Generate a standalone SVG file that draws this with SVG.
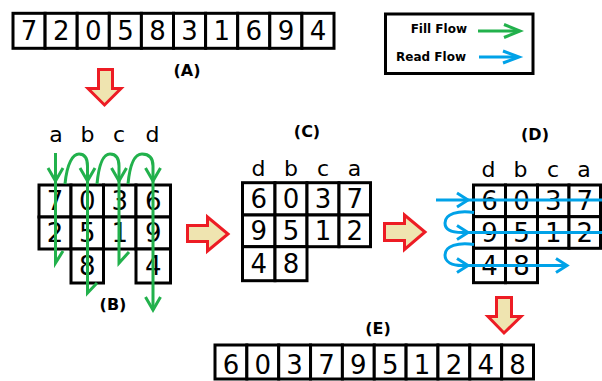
<svg xmlns="http://www.w3.org/2000/svg" width="602" height="381" viewBox="0 0 602 381">
<style>
.cell{fill:#fff;stroke:#000;stroke-width:3}
.dig{font-family:"DejaVu Sans",sans-serif;font-size:26px;text-anchor:middle;fill:#000}
.let{font-family:"DejaVu Sans",sans-serif;font-size:22px;text-anchor:middle;fill:#000}
.lab{font-family:"DejaVu Sans",sans-serif;font-size:16px;font-weight:bold;text-anchor:middle;fill:#000}
.leg{font-family:"DejaVu Sans",sans-serif;font-size:12px;font-weight:bold;text-anchor:end;fill:#000}
.big{fill:#EFE4B0;stroke:#ED1C24;stroke-width:3}
.g{fill:none;stroke:#22B14C;stroke-width:3}
.b{fill:none;stroke:#00A2E8;stroke-width:3}
</style>
<rect width="602" height="381" fill="#fff"/>

<g id="arrayA">
<rect class="cell" x="13" y="13.3" width="32.1" height="35"/>
<rect class="cell" x="45.1" y="13.3" width="32.1" height="35"/>
<rect class="cell" x="77.2" y="13.3" width="32.1" height="35"/>
<rect class="cell" x="109.3" y="13.3" width="32.1" height="35"/>
<rect class="cell" x="141.4" y="13.3" width="32.1" height="35"/>
<rect class="cell" x="173.5" y="13.3" width="32.1" height="35"/>
<rect class="cell" x="205.6" y="13.3" width="32.1" height="35"/>
<rect class="cell" x="237.7" y="13.3" width="32.1" height="35"/>
<rect class="cell" x="269.8" y="13.3" width="32.1" height="35"/>
<rect class="cell" x="301.9" y="13.3" width="32.1" height="35"/>
<text class="dig" x="29" y="40">7</text>
<text class="dig" x="61.2" y="40">2</text>
<text class="dig" x="93.3" y="40">0</text>
<text class="dig" x="125.4" y="40">5</text>
<text class="dig" x="157.5" y="40">8</text>
<text class="dig" x="189.6" y="40">3</text>
<text class="dig" x="221.7" y="40">1</text>
<text class="dig" x="253.8" y="40">6</text>
<text class="dig" x="285.9" y="40">9</text>
<text class="dig" x="318" y="40">4</text>
<text class="lab" x="187" y="76">(A)</text>
</g>

<g id="legend">
<rect x="385.5" y="14" width="147.5" height="59.5" fill="#fff" stroke="#000" stroke-width="3"/>
<text class="leg" x="467" y="33">Fill Flow</text>
<text class="leg" x="466" y="61">Read Flow</text>
<path class="g" d="M478,31 H519"/>
<polyline class="g" points="504,24.5 520,31 504,37.5"/>
<path class="b" d="M479,57 H518"/>
<polyline class="b" points="503,51 519,57 503,63"/>
</g>

<g id="gridB">
<text class="let" x="56" y="142">a</text>
<text class="let" x="87.5" y="142">b</text>
<text class="let" x="119" y="142">c</text>
<text class="let" x="152.5" y="142">d</text>
<rect class="cell" x="39" y="185" width="32" height="32"/>
<rect class="cell" x="71" y="185" width="32.5" height="32"/>
<rect class="cell" x="103.5" y="185" width="32.5" height="32"/>
<rect class="cell" x="136" y="185" width="34.5" height="32"/>
<rect class="cell" x="39" y="217" width="32" height="32"/>
<rect class="cell" x="71" y="217" width="32.5" height="32"/>
<rect class="cell" x="103.5" y="217" width="32.5" height="32"/>
<rect class="cell" x="136" y="217" width="34.5" height="32"/>
<rect class="cell" x="71" y="249" width="32.5" height="34"/>
<rect class="cell" x="136" y="249" width="34.5" height="34"/>
<text class="dig" x="55" y="210">7</text>
<text class="dig" x="87.3" y="210">0</text>
<text class="dig" x="119.8" y="210">3</text>
<text class="dig" x="153.3" y="210">6</text>
<text class="dig" x="55" y="242">2</text>
<text class="dig" x="87.3" y="242">5</text>
<text class="dig" x="119.8" y="242">1</text>
<text class="dig" x="153.3" y="242">9</text>
<text class="dig" x="87.3" y="275">8</text>
<text class="dig" x="153.3" y="275">4</text>
<text class="lab" x="113" y="309.5">(B)</text>
</g>

<g id="gridC">
<text class="lab" x="307" y="137">(C)</text>
<text class="let" x="258.5" y="176">d</text>
<text class="let" x="291" y="176">b</text>
<text class="let" x="323" y="176">c</text>
<text class="let" x="354.5" y="176">a</text>
<rect class="cell" x="242.5" y="182.7" width="32.5" height="32.3"/>
<rect class="cell" x="275" y="182.7" width="32" height="32.3"/>
<rect class="cell" x="307" y="182.7" width="32" height="32.3"/>
<rect class="cell" x="339" y="182.7" width="31.5" height="32.3"/>
<rect class="cell" x="242.5" y="215" width="32.5" height="31.7"/>
<rect class="cell" x="275" y="215" width="32" height="31.7"/>
<rect class="cell" x="307" y="215" width="32" height="31.7"/>
<rect class="cell" x="339" y="215" width="31.5" height="31.7"/>
<rect class="cell" x="242.5" y="246.7" width="32.5" height="34"/>
<rect class="cell" x="275" y="246.7" width="32" height="34"/>
<text class="dig" x="258.8" y="208">6</text>
<text class="dig" x="291" y="208">0</text>
<text class="dig" x="323" y="208">3</text>
<text class="dig" x="354.8" y="208">7</text>
<text class="dig" x="258.8" y="240">9</text>
<text class="dig" x="291" y="240">5</text>
<text class="dig" x="323" y="240">1</text>
<text class="dig" x="354.8" y="240">2</text>
<text class="dig" x="258.8" y="273">4</text>
<text class="dig" x="291" y="273">8</text>
</g>

<g id="gridD">
<text class="lab" x="535" y="139.5">(D)</text>
<text class="let" x="488.5" y="177">d</text>
<text class="let" x="520.5" y="177">b</text>
<text class="let" x="553" y="177">c</text>
<text class="let" x="584" y="177">a</text>
<rect class="cell" x="473.5" y="185" width="32" height="31.7"/>
<rect class="cell" x="505.5" y="185" width="32" height="31.7"/>
<rect class="cell" x="537.5" y="185" width="31.5" height="31.7"/>
<rect class="cell" x="569" y="185" width="31.5" height="31.7"/>
<rect class="cell" x="473.5" y="216.7" width="32" height="31.6"/>
<rect class="cell" x="505.5" y="216.7" width="32" height="31.6"/>
<rect class="cell" x="537.5" y="216.7" width="31.5" height="31.6"/>
<rect class="cell" x="569" y="216.7" width="31.5" height="31.6"/>
<rect class="cell" x="473.5" y="248.3" width="32" height="34.4"/>
<rect class="cell" x="505.5" y="248.3" width="32" height="34.4"/>
<text class="dig" x="489.5" y="210">6</text>
<text class="dig" x="521.5" y="210">0</text>
<text class="dig" x="553.3" y="210">3</text>
<text class="dig" x="584.8" y="210">7</text>
<text class="dig" x="489.5" y="241.5">9</text>
<text class="dig" x="521.5" y="241.5">5</text>
<text class="dig" x="553.3" y="241.5">1</text>
<text class="dig" x="584.8" y="241.5">2</text>
<text class="dig" x="489.5" y="274.5">4</text>
<text class="dig" x="521.5" y="274.5">8</text>
</g>

<g id="arrayE">
<text class="lab" x="378" y="334">(E)</text>
<rect class="cell" x="215" y="345" width="31.85" height="34"/>
<rect class="cell" x="246.85" y="345" width="31.85" height="34"/>
<rect class="cell" x="278.7" y="345" width="31.85" height="34"/>
<rect class="cell" x="310.55" y="345" width="31.85" height="34"/>
<rect class="cell" x="342.4" y="345" width="31.85" height="34"/>
<rect class="cell" x="374.25" y="345" width="31.85" height="34"/>
<rect class="cell" x="406.1" y="345" width="31.85" height="34"/>
<rect class="cell" x="437.95" y="345" width="31.85" height="34"/>
<rect class="cell" x="469.8" y="345" width="31.85" height="34"/>
<rect class="cell" x="501.65" y="345" width="31.85" height="34"/>
<text class="dig" x="230.9" y="373.5">6</text>
<text class="dig" x="262.8" y="373.5">0</text>
<text class="dig" x="294.6" y="373.5">3</text>
<text class="dig" x="326.5" y="373.5">7</text>
<text class="dig" x="358.3" y="373.5">9</text>
<text class="dig" x="390.2" y="373.5">5</text>
<text class="dig" x="422" y="373.5">1</text>
<text class="dig" x="453.9" y="373.5">2</text>
<text class="dig" x="485.7" y="373.5">4</text>
<text class="dig" x="517.6" y="373.5">8</text>
</g>

<g id="connectors">
<path class="big" d="M98.5,69.5 H112.5 V88.5 H121 L104.5,105 L88,88.5 H98.5 Z"/>
<path class="big" d="M187.5,225.5 H207.5 V217 L228,234 L207.5,251 V241.5 H187.5 Z"/>
<path class="big" d="M384.5,223.5 H404.5 V215 L425,232 L404.5,249.5 V240.5 H384.5 Z"/>
<path class="big" d="M496.5,297.5 H511.5 V316.5 H521 L504,333 L488,316.5 H496.5 Z"/>

<path class="g" d="M55.5,153 V263 L63,251"/>
<polyline class="g" points="48,168 55.5,181 63,168"/>
<path class="g" d="M65,184 C67,163 73,154 79,154 C85,154 87.5,158 87.5,166 V293 L97,283"/>
<polyline class="g" points="80,168 87.5,181 95,168"/>
<path class="g" d="M97,184 C99,163 104,154 110,154 C116,154 119,158 119,166 V263 L129,252"/>
<polyline class="g" points="111.5,168 119,181 126.5,168"/>
<path class="g" d="M128,184 C130,163 135,154 142,154 C149,154 153,158 153,166 V310"/>
<polyline class="g" points="145.5,168 153,181 160.5,168"/>
<polyline class="g" points="145.5,297 153,310 160.5,297"/>

<path class="b" d="M436,200 H602"/>
<polyline class="b" points="457,193 468,200 457,207"/>
<path class="b" d="M474,212.5 C458,210 445,214 445,223 C445,230 452,232.5 462,232.5 H602"/>
<polyline class="b" points="457,225.5 468,232.5 457,239.5"/>
<path class="b" d="M474,244.5 C458,242 445,246 445,255 C445,262 452,265.5 462,265.5 H567"/>
<polyline class="b" points="457,258.5 468,265.5 457,272.5"/>
<polyline class="b" points="556,258.5 567,265.5 556,272.5"/>
</g>
</svg>
